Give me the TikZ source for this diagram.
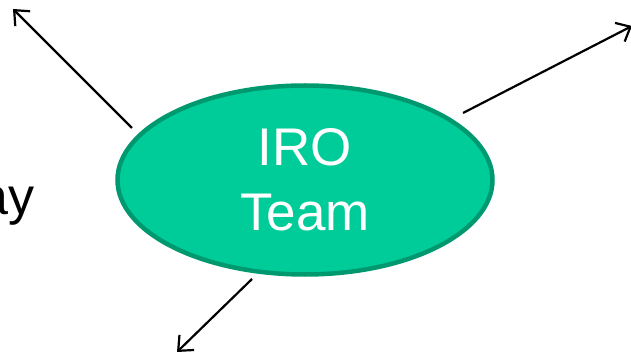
\documentclass[tikz,border=0pt]{standalone}
\usepackage{fontspec}
\setmainfont{Liberation Sans}
\usetikzlibrary{shapes.geometric, arrows.meta}
\definecolor{teamfill}{HTML}{00CC99}
\definecolor{teamedge}{HTML}{00996F}
\tikzset{
x=1pt, y=1pt, % work in points
link/.style={-{Straight Barb[length=12pt,width=21pt]}, line width=2.2pt}, % open arrow heads
team/.style={ellipse, draw=teamedge, fill=teamfill, line width=4.5pt,
  minimum width=375pt, minimum height=189pt, inner sep=0pt,
  text=white, align=center, font=\fontsize{53}{65}\selectfont},
label text/.style={font=\fontsize{52}{65}\selectfont},
}

\begin{document}
\begin{tikzpicture}
  \useasboundingbox (0,0) rectangle (631,356);

  \node[team] (iro) at (305,176) {IRO\\Team};
  \node[label text, anchor=base east, inner sep=0pt] (way) at (35,141) {ay};

  % loose ends of the arrows
  \coordinate (nwfrom) at (132,228);
  \coordinate (nwto) at (13,347);
  \coordinate (nefrom) at (463,243);
  \coordinate (neto) at (632,330);
  \coordinate (swfrom) at (252,77);
  \coordinate (swto) at (177,4);

  \draw[link] (nwfrom) -- (nwto);
  \draw[link] (nefrom) -- (neto);
  \draw[link] (swfrom) -- (swto);
\end{tikzpicture}
\end{document}
